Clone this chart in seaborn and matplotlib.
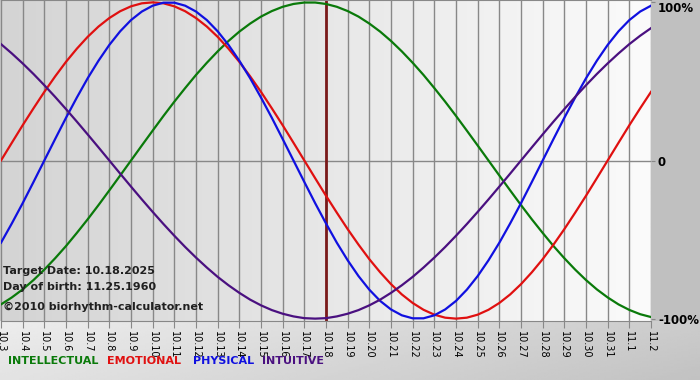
import matplotlib
matplotlib.use("Agg")
import matplotlib.pyplot as plt
import numpy as np
import pandas as pd
import seaborn as sns
from matplotlib.colors import LinearSegmentedColormap

dates = ["10.3", "10.4", "10.5", "10.6", "10.7", "10.8", "10.9", "10.10", "10.11",
         "10.12", "10.13", "10.14", "10.15", "10.16", "10.17", "10.18", "10.19",
         "10.20", "10.21", "10.22", "10.23", "10.24", "10.25", "10.26", "10.27",
         "10.28", "10.29", "10.30", "10.31", "11.1", "11.2"]

# values read every half day, from 10.3 to 11.2
intellectual = [-0.910, -0.866, -0.815, -0.756, -0.690, -0.618, -0.541, -0.458, -0.372, -0.282,
                -0.189, -0.095, 0.0, 0.095, 0.189, 0.282, 0.372, 0.458, 0.541, 0.618,
                0.690, 0.756, 0.815, 0.866, 0.910, 0.945, 0.972, 0.990, 0.999, 0.999,
                0.990, 0.972, 0.945, 0.910, 0.866, 0.815, 0.756, 0.690, 0.618, 0.541,
                0.458, 0.372, 0.282, 0.189, 0.095, 0.0, -0.095, -0.189, -0.282, -0.372,
                -0.458, -0.541, -0.618, -0.690, -0.756, -0.815, -0.866, -0.910, -0.945, -0.972,
                -0.990]
emotional = [0.0, 0.112, 0.223, 0.330, 0.434, 0.532, 0.624, 0.707, 0.782, 0.847,
             0.901, 0.944, 0.975, 0.994, 1.000, 0.994, 0.975, 0.944, 0.901, 0.847,
             0.782, 0.707, 0.624, 0.532, 0.434, 0.330, 0.223, 0.112, 0.0, -0.112,
             -0.223, -0.330, -0.434, -0.532, -0.624, -0.707, -0.782, -0.847, -0.901, -0.944,
             -0.975, -0.994, -1.000, -0.994, -0.975, -0.944, -0.901, -0.847, -0.782, -0.707,
             -0.624, -0.532, -0.434, -0.330, -0.223, -0.112, 0.0, 0.112, 0.223, 0.330,
             0.434]
physical = [-0.520, -0.398, -0.270, -0.136, 0.0, 0.136, 0.270, 0.398, 0.520, 0.631,
            0.731, 0.817, 0.888, 0.942, 0.979, 0.998, 0.998, 0.979, 0.942, 0.888,
            0.817, 0.731, 0.631, 0.520, 0.398, 0.270, 0.136, 0.0, -0.136, -0.270,
            -0.398, -0.520, -0.631, -0.731, -0.817, -0.888, -0.942, -0.979, -0.998, -0.998,
            -0.979, -0.942, -0.888, -0.817, -0.731, -0.631, -0.520, -0.398, -0.270, -0.136,
            0.0, 0.136, 0.270, 0.398, 0.520, 0.631, 0.731, 0.817, 0.888, 0.942,
            0.979]
intuitive = [0.736, 0.677, 0.614, 0.547, 0.476, 0.402, 0.325, 0.246, 0.165, 0.083,
             0.0, -0.083, -0.165, -0.246, -0.325, -0.402, -0.476, -0.547, -0.614, -0.677,
             -0.736, -0.789, -0.837, -0.880, -0.916, -0.946, -0.969, -0.986, -0.997, -1.000,
             -0.997, -0.986, -0.969, -0.946, -0.916, -0.880, -0.837, -0.789, -0.736, -0.677,
             -0.614, -0.547, -0.476, -0.402, -0.325, -0.246, -0.165, -0.083, 0.0, 0.083,
             0.165, 0.246, 0.325, 0.402, 0.476, 0.547, 0.614, 0.677, 0.736, 0.789,
             0.837]

rhythms = ["INTELLECTUAL", "EMOTIONAL", "PHYSICAL", "INTUITIVE"]
colors = {"INTELLECTUAL": "#0a7a0a", "EMOTIONAL": "#e01010",
          "PHYSICAL": "#1010e0", "INTUITIVE": "#4a1080"}
target_date = "10.18"
target_year = "2025"
birth_date = "11.25.1960"

n_days = len(dates)
half_day = np.arange(len(physical)) / 2
df = pd.concat([
    pd.DataFrame({"day": half_day, "value": vals, "rhythm": name})
    for name, vals in zip(rhythms, [intellectual, emotional, physical, intuitive])
])

W, H = 700, 380
fig = plt.figure(figsize=(7, 3.8), dpi=100)
fig.patch.set_facecolor("#c0c0c0")

# bottom strip with soft gradient
bg = fig.add_axes([0, 0, 1, 59 / H], zorder=-5)
gx, gy = np.meshgrid(np.linspace(0, 1, 200), np.linspace(0, 1, 40))
bg.imshow(0.93 - 0.13 * gx - 0.04 * (1 - gy), cmap="gray", vmin=0, vmax=1,
          aspect="auto", extent=[0, 1, 0, 1], origin="lower")
bg.axis("off")

ax = fig.add_axes([1 / W, 59 / H, 650 / W, 321 / H])
grad = LinearSegmentedColormap.from_list("g", ["#d4d4d4", "#fbfbfb"])
ax.imshow(np.linspace(0, 1, 256).reshape(1, -1), cmap=grad, aspect="auto",
          extent=[0, n_days - 1, -1.015, 1.015], zorder=0)

sns.lineplot(data=df, x="day", y="value", hue="rhythm", palette=colors,
             hue_order=rhythms, legend=False, linewidth=1.6, ax=ax, zorder=3)

ax.axvline(dates.index(target_date), color="#7a1a1a", lw=2, zorder=2)
ax.axhline(0, color="#888888", lw=1, zorder=1)

ax.set_xlim(0, n_days - 1)
ax.set_ylim(-1.015, 1.015)
ax.set_xticks(np.arange(n_days))
ax.set_xticklabels(dates, rotation=270, fontsize=7)
ax.grid(axis="x", color="#888888", lw=1, zorder=1)
ax.tick_params(axis="x", length=5, color="#888888", pad=2)
ax.yaxis.tick_right()
ax.set_yticks([1, 0, -1])
ax.set_yticklabels(["100%", "0", "-100%"], fontsize=8.5, fontweight="bold")
ax.get_yticklabels()[0].set_va("top")
ax.tick_params(axis="y", length=3, color="#888888", pad=2)
ax.set_xlabel("")
ax.set_ylabel("")
for side in ["left", "right"]:
    ax.spines[side].set_visible(False)
for side in ["top", "bottom"]:
    ax.spines[side].set_color("#888888")

txt = dict(fontsize=8, fontweight="bold", color="#202020", transform=ax.transAxes)
ax.text(2 / 650, 1 - 271 / 321, "Target Date: " + target_date + "." + target_year,
        va="center", **txt)
ax.text(2 / 650, 1 - 287 / 321, "Day of birth: " + birth_date, va="center", **txt)
ax.text(2 / 650, 1 - 307 / 321, "\u00a92010 biorhythm-calculator.net", va="center", **txt)

for name, xpos in zip(rhythms, [8, 107, 193, 262]):
    fig.text(xpos / W, 1 - 361 / H, name, color=colors[name], fontsize=8,
             fontweight="bold", va="center")

fig.savefig("out.png", dpi=100)
